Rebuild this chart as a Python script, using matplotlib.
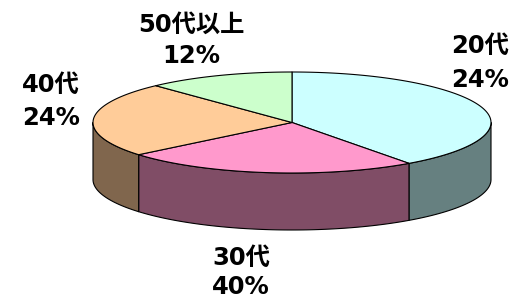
import numpy as np
import matplotlib.pyplot as plt
from matplotlib.patches import Polygon

# slice sizes as drawn (percent of the circle), clockwise from 12 o'clock
slice_share = [40, 24, 24, 12]
slice_names = ['20代', '30代', '40代', '50代以上']
label_pct = ['24%', '40%', '24%', '12%']
top_colors = ['#CCFFFF', '#FF99CC', '#FFCC99', '#CCFFCC']
side_colors = ['#668080', '#804D66', '#80664D', '#668066']

# label anchors (centre x, baseline y for name line, baseline y for percent line)
label_pos = [(480, 53, 87), (241, 265, 294), (51, 92, 125), (191, 32, 63)]

cx, cy, rx, ry = 292, 122.5, 199, 50.5
depth = 57

fig = plt.figure(figsize=(5.22, 2.98), dpi=100)
ax = fig.add_axes([0, 0, 1, 1])
ax.set_xlim(0, 522)
ax.set_ylim(298, 0)
ax.axis('off')

def rim(t, dy=0.0):
    return np.column_stack([cx + rx * np.cos(t), cy - ry * np.sin(t) + dy])

# slice angle ranges (degrees), going clockwise from 90 deg
bounds = 90 - np.concatenate([[0], np.cumsum(slice_share)]) * 3.6
edge_kw = dict(edgecolor='black', linewidth=0.8, joinstyle='round')

# side walls (only the front half, angles between 180 and 360)
for i in range(len(slice_share)):
    a1, a2 = bounds[i], bounds[i + 1]   # a1 > a2
    lo = max(a2, -180)
    hi = min(a1, 0)
    if hi <= lo:
        lo2 = max(a2, 180)
        hi2 = min(a1, 360)
        if hi2 <= lo2:
            continue
        lo, hi = lo2 - 360, hi2 - 360
    t = np.radians(np.linspace(hi, lo, 80))
    top = rim(t)
    bot = rim(t[::-1], depth)
    ax.add_patch(Polygon(np.vstack([top, bot]), closed=True,
                         facecolor=side_colors[i], **edge_kw))

# top faces
for i in range(len(slice_share)):
    t = np.radians(np.linspace(bounds[i], bounds[i + 1], 120))
    pts = np.vstack([[cx, cy], rim(t)])
    ax.add_patch(Polygon(pts, closed=True, facecolor=top_colors[i], **edge_kw))

fam = ['DejaVu Sans', 'Noto Sans CJK JP']
for name, pct, (x, y1, y2) in zip(slice_names, label_pct, label_pos):
    ax.text(x, y1, name, ha='center', va='baseline', fontsize=17.5,
            fontweight='bold', family=fam, color='black')
    ax.text(x, y2, pct, ha='center', va='baseline', fontsize=17.5,
            fontweight='bold', family=fam, color='black')

fig.savefig('out.png', dpi=100)
